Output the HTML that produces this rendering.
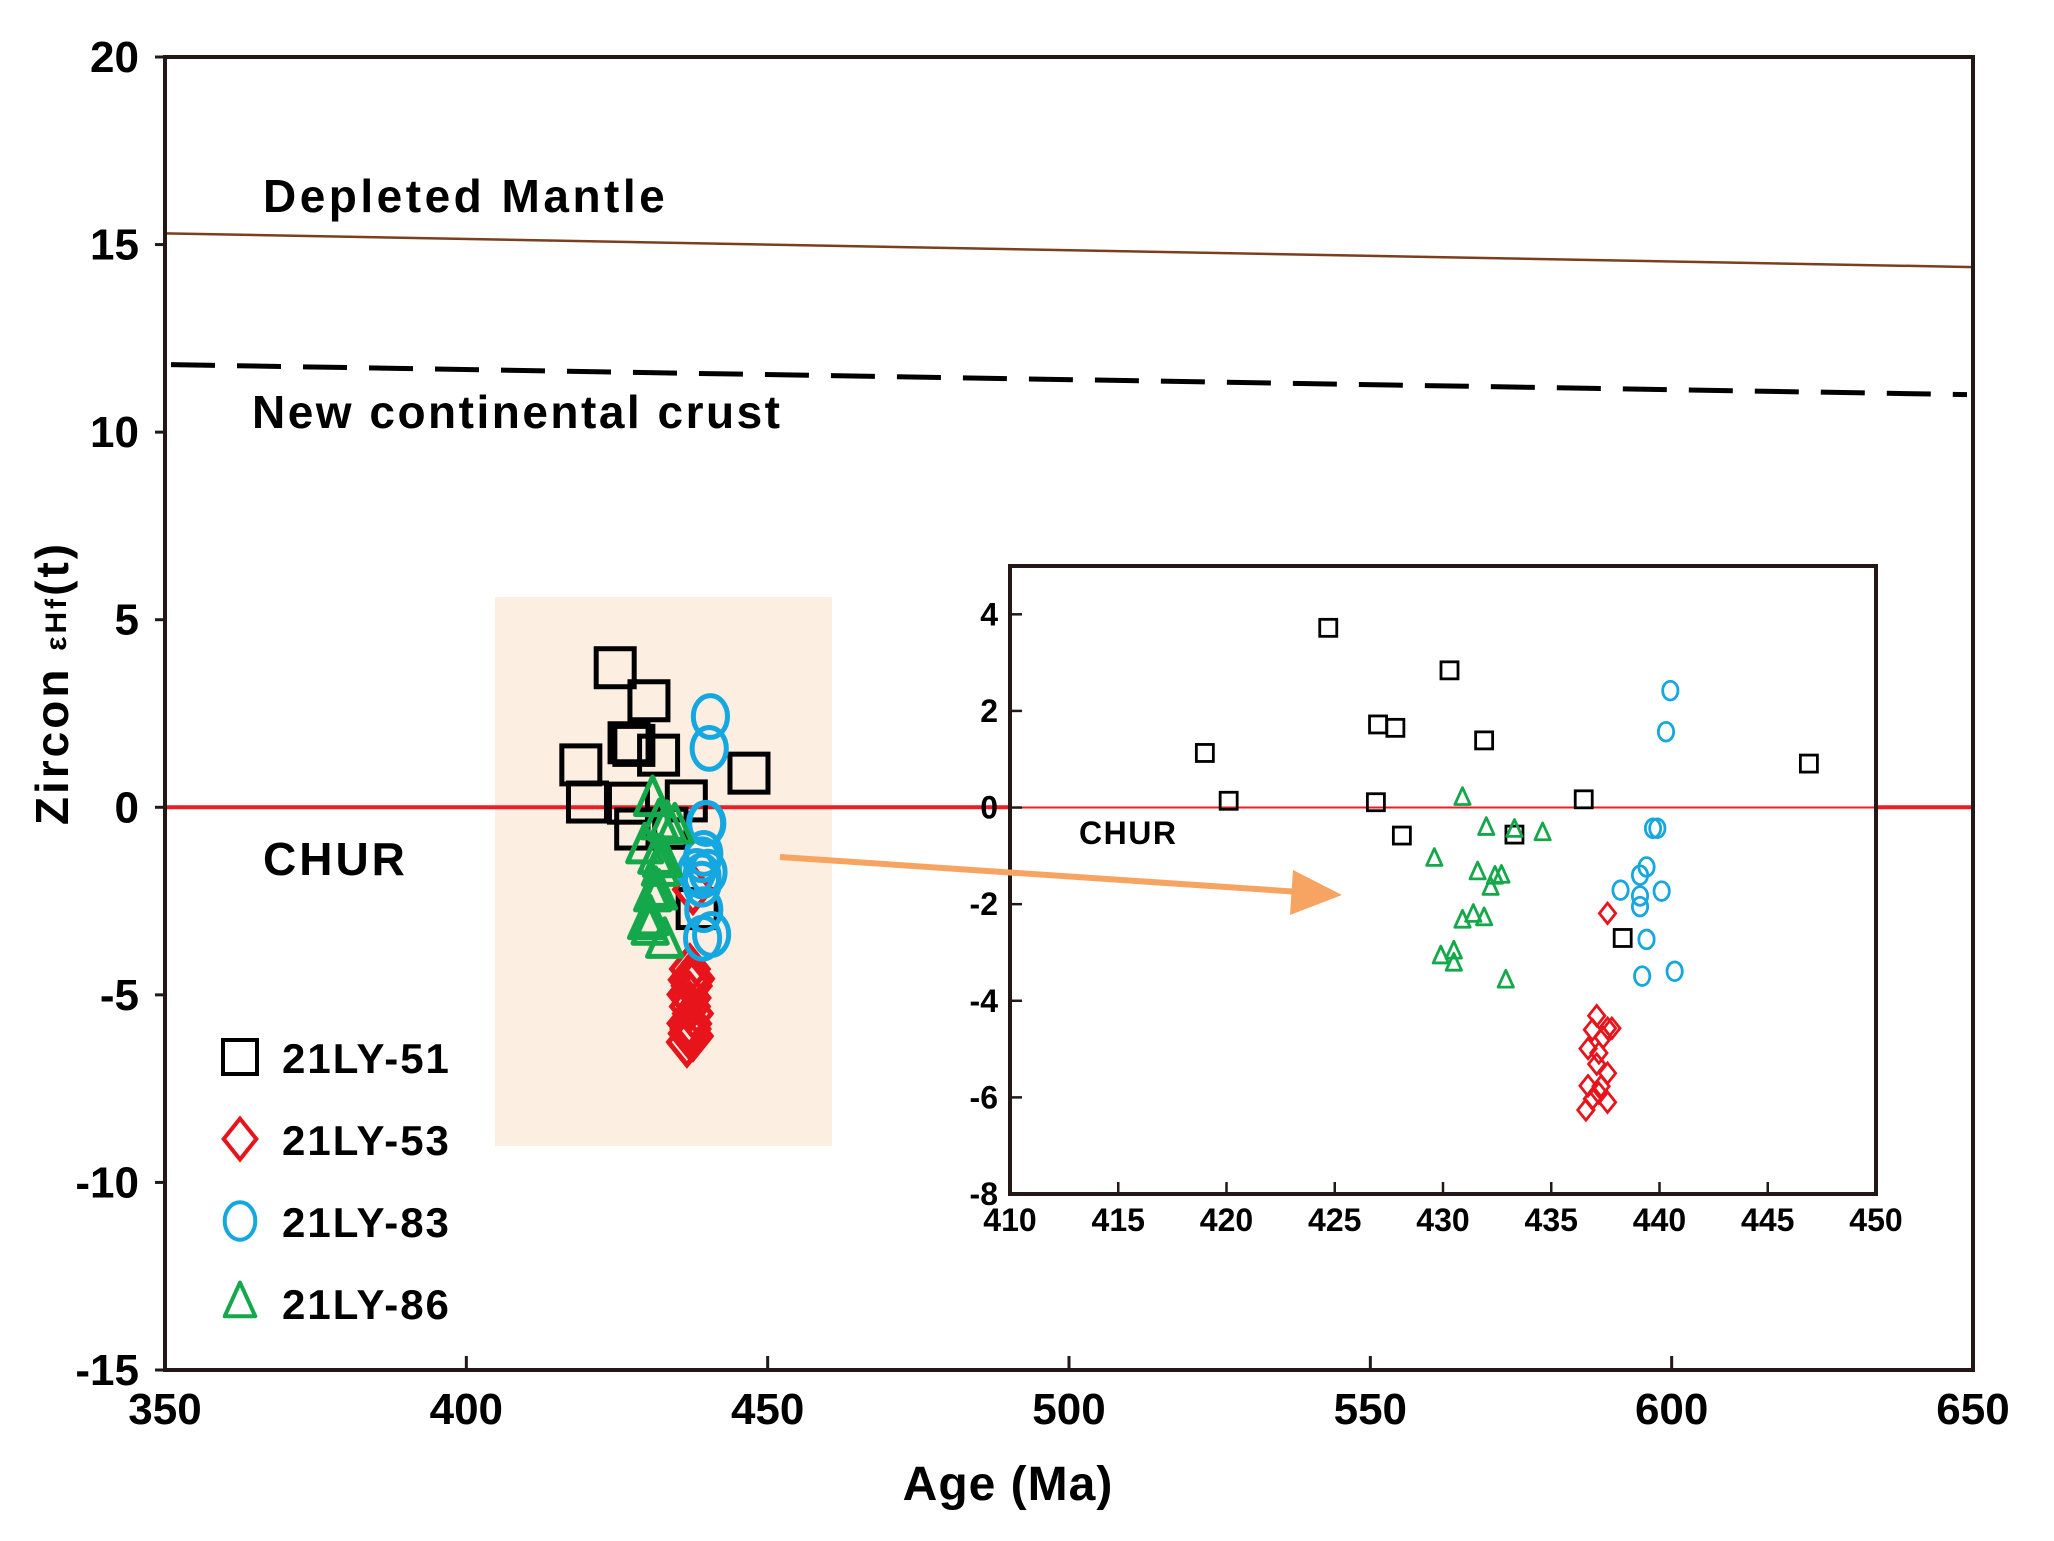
<!DOCTYPE html>
<html><head><meta charset="utf-8"><style>
html,body{margin:0;padding:0;background:#fff}
svg{display:block}
text{font-family:"Liberation Sans",Arial,sans-serif;font-weight:bold;fill:#000}
</style></head><body>
<svg id="chart" width="2054" height="1541" viewBox="0 0 2054 1541" xmlns="http://www.w3.org/2000/svg">
<rect x="0" y="0" width="2054" height="1541" fill="#fff"/>
<rect x="495" y="597" width="337" height="549" fill="#fdeee2"/>
<g id="main"></g>
<g id="inset"></g>
<g id="overlay"></g>
</svg>
<script>
const xTicksMain=[350,400,450,500,550,600,650];
const yTicksMain=[20,15,10,5,0,-5,-10,-15];
const xTicksInset=[410,415,420,425,430,435,440,445,450];
const yTicksInset=[4,2,0,-2,-4,-6,-8];
const dmLine=[15.3,14.4];
const nccLine=[11.8,11.0];
const s51x=[419.0,420.1,424.7,430.3,427.0,427.8,426.9,428.1,431.9,433.3,436.5,438.3,446.9];
const s51y=[1.13,0.14,3.72,2.84,1.72,1.65,0.11,-0.58,1.39,-0.56,0.17,-2.70,0.91];
const s53x=[437.6,437.1,436.9,437.6,437.8,437.4,436.7,437.2,437.1,437.6,436.7,437.3,436.9,437.6,436.6,437.2];
const s53y=[-2.19,-4.31,-4.6,-4.57,-4.57,-4.76,-4.99,-5.08,-5.31,-5.5,-5.76,-5.77,-6.03,-6.1,-6.26,-5.91];
const s83x=[440.5,440.3,439.7,439.9,439.4,439.1,438.2,439.1,439.1,440.1,439.4,439.2,440.7];
const s83y=[2.42,1.57,-0.43,-0.43,-1.23,-1.40,-1.71,-1.83,-2.05,-1.73,-2.73,-3.49,-3.39];
const s86x=[430.9,432.0,433.3,434.6,429.6,431.6,432.4,432.7,432.2,430.9,431.4,431.9,429.9,430.5,430.5,432.9];
const s86y=[0.2,-0.42,-0.46,-0.53,-1.06,-1.34,-1.43,-1.41,-1.66,-2.34,-2.22,-2.29,-3.08,-2.98,-3.23,-3.58];

const NS='http://www.w3.org/2000/svg';
function mk(parent,tag,attrs,txt){const e=document.createElementNS(NS,tag);for(const k in attrs)e.setAttribute(k,attrs[k]);if(txt!==undefined)e.textContent=txt;parent.appendChild(e);return e;}
const M={x0:165,x1:1973,y0:57,y1:1370,xmin:350,xmax:650,ymin:-15,ymax:20};
const I={x0:1010,x1:1876,y0:566,y1:1194,xmin:410,xmax:450,ymin:-8,ymax:5};
const sx=(a,v)=>a.x0+(v-a.xmin)/(a.xmax-a.xmin)*(a.x1-a.x0);
const sy=(a,v)=>a.y1-(v-a.ymin)/(a.ymax-a.ymin)*(a.y1-a.y0);
const main=document.getElementById('main'), inset=document.getElementById('inset'), overlay=document.getElementById('overlay');

function marker(g,type,x,y,s,sw){
  let e;
  if(type==='sq'){e=mk(g,'rect',{x:x-s/2,y:y-s/2,width:s,height:s,fill:'none',stroke:'#000','stroke-width':sw});}
  else if(type==='di'){const r=s*0.6;e=mk(g,'polygon',{points:`${x},${y-r} ${x+r*0.8},${y} ${x},${y+r} ${x-r*0.8},${y}`,fill:'none',stroke:'#e8141c','stroke-width':sw});}
  else if(type==='ci'){e=mk(g,'ellipse',{cx:x,cy:y,rx:s*0.45,ry:s*0.55,fill:'none',stroke:'#15a7e0','stroke-width':sw});}
  else {const r=s*0.6;e=mk(g,'polygon',{points:`${x},${y-r} ${x+r*0.75},${y+r*0.65} ${x-r*0.75},${y+r*0.65}`,fill:'none',stroke:'#14a84a','stroke-width':sw,'stroke-linejoin':'round'});}
  return e;
}
const series=[['sq',s51x,s51y,'21LY-51'],['di',s53x,s53y,'21LY-53'],['ci',s83x,s83y,'21LY-83'],['tr',s86x,s86y,'21LY-86']];

let e=mk(main,'line',{x1:sx(M,350),y1:sy(M,dmLine[0]),x2:sx(M,650),y2:sy(M,dmLine[1]),stroke:'#7b3f1f','stroke-width':2.5});


e=mk(main,'line',{x1:sx(M,351),y1:sy(M,nccLine[0]),x2:sx(M,649),y2:sy(M,nccLine[1]),stroke:'#000','stroke-width':5,'stroke-dasharray':'44 22'});


e=mk(main,'line',{x1:M.x0,y1:sy(M,0),x2:M.x1,y2:sy(M,0),stroke:'#ee1c24','stroke-width':4});



series.forEach(([t,xs,ys,n])=>{const g=mk(main,'g',{});
  xs.forEach((v,i)=>{const m=marker(g,t,sx(M,v),sy(M,ys[i]),38,5);});});

e=mk(main,'rect',{x:M.x0,y:M.y0,width:M.x1-M.x0,height:M.y1-M.y0,fill:'none',stroke:'#231815','stroke-width':4});


xTicksMain.forEach(v=>{const x=sx(M,v);mk(main,'line',{x1:x,y1:M.y1,x2:x,y2:M.y1-14,stroke:'#231815','stroke-width':3});
  const t=mk(main,'text',{x:x,y:M.y1+54,'text-anchor':'middle','font-size':44},v);});
yTicksMain.forEach(v=>{const y=sy(M,v);mk(main,'line',{x1:M.x0,y1:y,x2:M.x0-10,y2:y,stroke:'#231815','stroke-width':3});
  const t=mk(main,'text',{x:M.x0-26,y:y+15,'text-anchor':'end','font-size':44},v);});

function lab(g,x,y,s,txt,name,extra){const t=mk(g,'text',Object.assign({x:x,y:y,'font-size':s},extra||{}),txt);return t;}
lab(main,263,212,46,'Depleted Mantle','depleted-mantle-label',{'letter-spacing':'3.5'});
lab(main,252,428,46,'New continental crust','ncc-label',{'letter-spacing':'2.5'});
lab(main,263,875,46,'CHUR','chur-label',{'letter-spacing':'3'});
lab(main,1008,1500,48,'Age (Ma)','x-axis-title',{'text-anchor':'middle','letter-spacing':'1'});
const yt=mk(main,'text',{x:0,y:0,'font-size':46,transform:'translate(68,683) rotate(-90)','text-anchor':'middle','letter-spacing':'3'});


yt.innerHTML='Zircon <tspan font-size="30" dy="-2">εHf</tspan><tspan dy="2">(t)</tspan>';

const lys=[1057,1139,1221,1303];
series.forEach(([t,xs,ys,n],i)=>{const g=mk(main,'g',{});
  marker(g,t,240,lys[i],34,4);lab(g,282,lys[i]+16,42,n,'legend-label',{'letter-spacing':'2'});});



mk(inset,'rect',{x:I.x0,y:I.y0,width:I.x1-I.x0,height:I.y1-I.y0,fill:'#fff'});
e=mk(inset,'line',{x1:I.x0,y1:sy(I,0),x2:I.x1,y2:sy(I,0),stroke:'#ee1c24','stroke-width':2});


series.forEach(([t,xs,ys,n])=>{const g=mk(inset,'g',{});
  xs.forEach((v,i)=>{const m=marker(g,t,sx(I,v),sy(I,ys[i]),17,2.8);});});
e=mk(inset,'rect',{x:I.x0,y:I.y0,width:I.x1-I.x0,height:I.y1-I.y0,fill:'none',stroke:'#231815','stroke-width':4});


xTicksInset.forEach(v=>{const x=sx(I,v);mk(inset,'line',{x1:x,y1:I.y1,x2:x,y2:I.y1-12,stroke:'#231815','stroke-width':2.5});
  const t=mk(inset,'text',{x:x,y:I.y1+37,'text-anchor':'middle','font-size':32},v);});
yTicksInset.forEach(v=>{const y=sy(I,v);mk(inset,'line',{x1:I.x0,y1:y,x2:I.x0+12,y2:y,stroke:'#231815','stroke-width':2.5});
  const t=mk(inset,'text',{x:I.x0-12,y:y+11,'text-anchor':'end','font-size':32},v);});
lab(inset,1079,844,32,'CHUR','inset-chur-label',{'letter-spacing':'1.5'});

e=mk(overlay,'g',{});


mk(e,'line',{x1:780,y1:857,x2:1300,y2:892,stroke:'#f7a463','stroke-width':6});
mk(e,'polygon',{points:'1342,895 1293,870 1290,915',fill:'#f7a463'});
</script>
</body></html>
